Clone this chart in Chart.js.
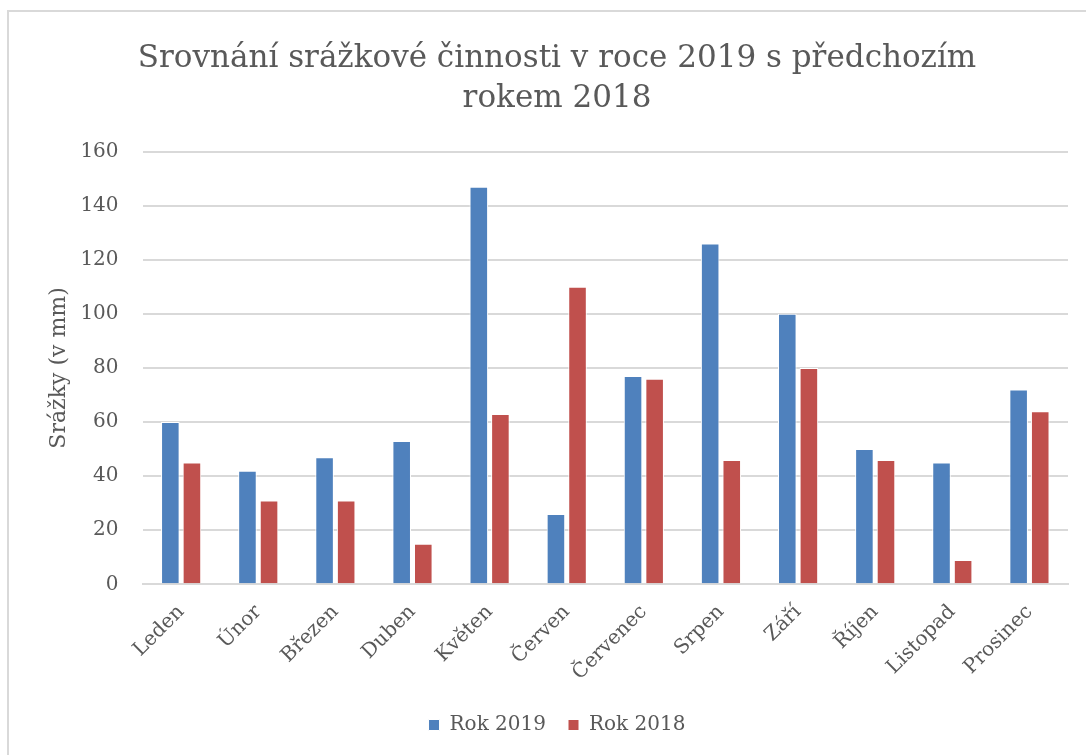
<!DOCTYPE html>
<html>
<head>
<meta charset="utf-8">
<script src="https://cdn.jsdelivr.net/npm/chart.js@4/dist/chart.umd.min.js"></script>
<style>
    body { margin: 0; background: #ffffff; }
    #frame {
        position: absolute; left: 7px; top: 10px; width: 1200px; height: 900px;
        border-left: 2px solid #d9d9d9; border-top: 2px solid #d9d9d9;
    }
    #wrap { position: absolute; left: 0; top: 0; width: 1086px; height: 755px; }
</style>
</head>
<body>
<div id="frame"></div>
<div id="wrap"><canvas id="rainChart"></canvas></div>
<script>
const months = ['Leden', 'Únor', 'Březen', 'Duben', 'Květen', 'Červen',
    'Červenec', 'Srpen', 'Září', 'Říjen', 'Listopad', 'Prosinec'];
const rain2019 = [60, 42, 47, 53, 147, 26, 77, 126, 100, 50, 45, 72];
const rain2018 = [45, 31, 31, 15, 63, 110, 76, 46, 80, 46, 9, 64];
const yTicks = [0, 20, 40, 60, 80, 100, 120, 140, 160];

const fontFamily = '"DejaVu Serif", serif';
const textColor = '#595959';
const gridColor = '#d9d9d9';

const ctx = document.getElementById('rainChart').getContext('2d');

new Chart(ctx, {
    type: 'bar',
    data: {
        labels: months,
        datasets: [{
            label: 'Rok 2019',
            data: rain2019,
            backgroundColor: '#4f81bd',
            borderColor: '#ffffff',
            borderWidth: 1,
            categoryPercentage: 0.56,
            barPercentage: 0.86
        }, {
            label: 'Rok 2018',
            data: rain2018,
            backgroundColor: '#c0504d',
            borderColor: '#ffffff',
            borderWidth: 1,
            categoryPercentage: 0.56,
            barPercentage: 0.86
        }]
    },
    options: {
        responsive: true,
        maintainAspectRatio: false,
        animation: false,
        layout: {
            padding: { left: 46, right: 18, top: 39, bottom: 10 }
        },
        plugins: {
            title: {
                display: true,
                text: ['Srovnání srážkové činnosti v roce 2019 s předchozím', 'rokem 2018'],
                color: textColor,
                font: { family: fontFamily, size: 31, weight: 'normal', lineHeight: 1.3 },
                padding: { top: 0, bottom: 32 }
            },
            legend: {
                display: true,
                position: 'bottom',
                labels: {
                    color: textColor,
                    font: { family: fontFamily, size: 20 },
                    boxWidth: 11,
                    boxHeight: 11,
                    padding: 22
                }
            },
            tooltip: { enabled: false }
        },
        scales: {
            y: {
                min: 0,
                max: 160,
                afterBuildTicks: function (axis) {
                    axis.ticks = yTicks.map(v => ({ value: v }));
                },
                grid: {
                    color: gridColor,
                    lineWidth: 2,
                    drawTicks: false
                },
                border: { display: false },
                ticks: {
                    color: textColor,
                    font: { family: fontFamily, size: 20 },
                    padding: 24
                },
                title: {
                    display: true,
                    text: 'Srážky (v mm)',
                    color: textColor,
                    font: { family: fontFamily, size: 22 },
                    padding: { top: 0, bottom: -16 }
                }
            },
            x: {
                grid: { display: false },
                border: { color: gridColor, width: 2 },
                ticks: {
                    color: textColor,
                    font: { family: fontFamily, size: 20 },
                    maxRotation: 45,
                    minRotation: 45,
                    padding: 8
                }
            }
        }
    }
});
</script>
</body>
</html>
